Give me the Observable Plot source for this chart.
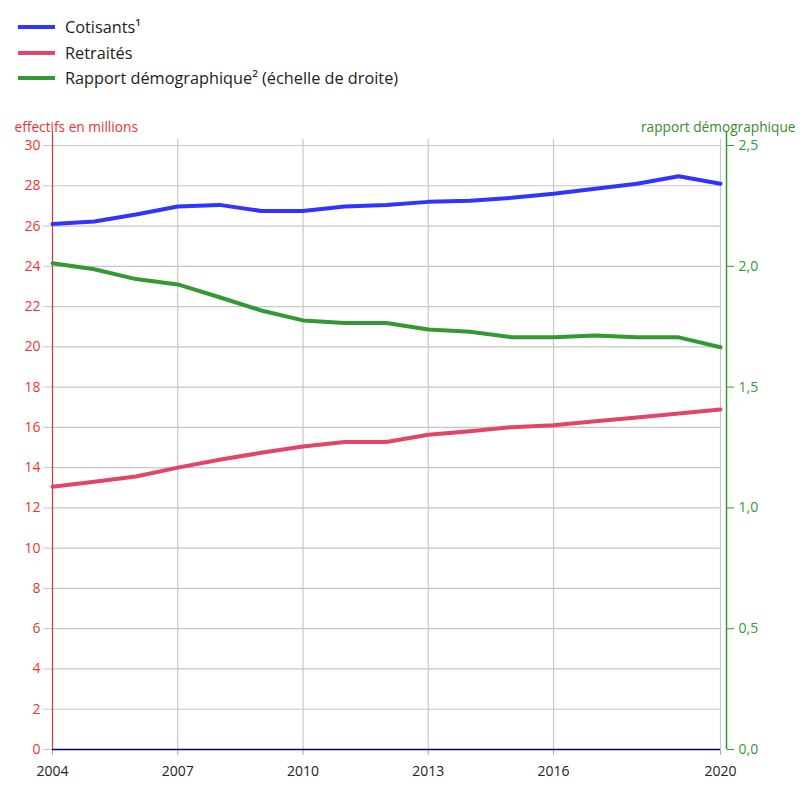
<!DOCTYPE html>
<html>
<head>
<meta charset="utf-8">
<script src="https://cdn.jsdelivr.net/npm/d3@7"></script>
<script src="https://cdn.jsdelivr.net/npm/@observablehq/plot@0.6"></script>
<style>
  body { margin: 0; background: #fff; font-family: "Open Sans", sans-serif; }
  #wrap { position: relative; width: 809px; height: 790px; }
  .leg { position: absolute; left: 18px; display: flex; align-items: center; font-size: 16.3px; color: #222; line-height: 20px; }
  .leg span.sw { display: inline-block; width: 37px; height: 4px; margin-right: 10px; }
  #chart { position: absolute; left: 0; top: 110px; }
</style>
</head>
<body>
<div id="wrap">
  <div id="legend"></div>
  <div id="chart"></div>
</div>
<script>
const years = [2004,2005,2006,2007,2008,2009,2010,2011,2012,2013,2014,2015,2016,2017,2018,2019,2020];
const cotisants = [26.1,26.23,26.57,26.97,27.05,26.75,26.75,26.97,27.05,27.2,27.25,27.4,27.6,27.85,28.1,28.47,28.1];
const retraites = [13.05,13.3,13.56,14.0,14.39,14.74,15.05,15.27,15.27,15.63,15.81,16.01,16.1,16.3,16.49,16.69,16.89];
const rapport = [2.013,1.988,1.947,1.925,1.872,1.817,1.776,1.765,1.765,1.738,1.729,1.706,1.706,1.714,1.706,1.706,1.665];

const seriesNames = ["Cotisants¹", "Retraités", "Rapport démographique² (échelle de droite)"];
const seriesColors = ["#3333ff", "#e34467", "#339933"];

const xTicks = [2004, 2007, 2010, 2013, 2016, 2020];
const xGrid = [2007, 2010, 2013, 2016, 2020];
const leftTicks = [0,2,4,6,8,10,12,14,16,18,20,22,24,26,28,30];
const rightTicks = [0, 0.5, 1, 1.5, 2, 2.5];
const rightMax = 2.5, leftMax = 30;
const ratio = leftMax / rightMax;

const leftLabel = "effectifs en millions";
const rightLabel = "rapport démographique";

// legend
const legend = document.getElementById("legend");
const legTops = [17, 43, 68];
seriesNames.forEach((n, i) => {
  const d = document.createElement("div");
  d.className = "leg";
  d.style.top = legTops[i] + "px";
  d.innerHTML = `<span class="sw" style="background:${seriesColors[i]}"></span><span>${n}</span>`;
  legend.appendChild(d);
});

const rows = [];
years.forEach((y, i) => {
  rows.push({year: y, v: cotisants[i], s: seriesNames[0]});
  rows.push({year: y, v: retraites[i], s: seriesNames[1]});
  rows.push({year: y, v: rapport[i] * ratio, s: seriesNames[2]});
});

const fmtR = d => (d / ratio).toFixed(1).replace(".", ",");
const redText = "#ee3333";
const greenText = "#339933";
const gridColor = "#c8c8c8";

const chart = Plot.plot({
  width: 809,
  height: 680,
  marginTop: 35,
  marginBottom: 41,
  marginLeft: 52,
  marginRight: 89,
  style: { fontFamily: "'Open Sans', sans-serif", fontSize: "14px", background: "#fff" },
  x: { domain: [2004, 2020], axis: null },
  y: { domain: [0, 30], axis: null },
  color: { domain: seriesNames, range: seriesColors },
  marks: [
    Plot.ruleY(leftTicks.filter(d => d > 0), { x1: 2004, x2: 2020, stroke: gridColor, strokeWidth: 1.2 }),
    Plot.ruleX(xGrid, { y1: 0, y2: 30.3, stroke: gridColor, strokeWidth: 1.2 }),
    Plot.axisY(leftTicks, { anchor: "left", tickSize: 9, tickPadding: 3, stroke: gridColor, fill: redText, label: null, fontSize: 14, tickFormat: d => String(d) }),
    Plot.axisY(rightTicks.map(d => d * ratio), { anchor: "right", dx: 6, tickSize: 7, tickPadding: 5, stroke: seriesColors[2], fill: greenText, label: null, fontSize: 14, tickFormat: fmtR }),
    Plot.axisX(xTicks, { anchor: "bottom", tickSize: 6, tickPadding: 11, stroke: "#aaaaaa", fill: "#222", label: null, fontSize: 14, tickFormat: d => String(d) }),
    Plot.ruleY([0], { stroke: "#000080", strokeWidth: 1.5 }),
    Plot.ruleX([2004], { y1: 0, y2: 30.65, stroke: "#e03030", strokeWidth: 1.2 }),
    Plot.ruleX([2020], { dx: 6, y1: 0, y2: 30.65, stroke: seriesColors[2], strokeWidth: 1.5 }),
    Plot.line(rows, { x: "year", y: "v", z: "s", stroke: "s", strokeWidth: 4, strokeLinejoin: "round" }),
    Plot.text([leftLabel], { frameAnchor: "top-left", dx: -38, dy: -23, textAnchor: "start", fill: redText, fontSize: 13.7 }),
    Plot.text([rightLabel], { frameAnchor: "top-right", dx: 75, dy: -23, textAnchor: "end", fill: "#3a8a2f", fontSize: 13.7 })
  ]
});
document.getElementById("chart").appendChild(chart);
</script>
</body>
</html>
